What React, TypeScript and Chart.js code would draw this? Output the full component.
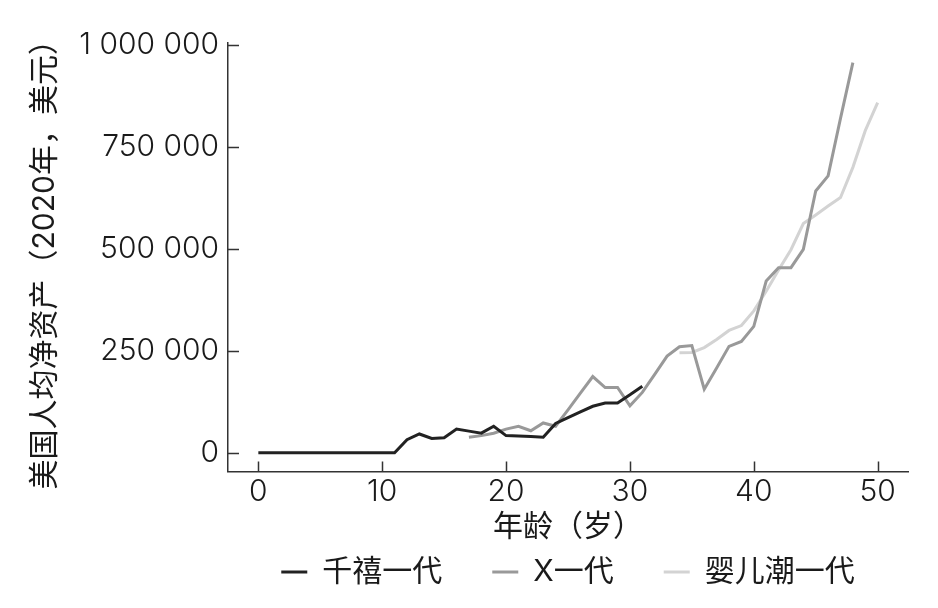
import React, { useEffect, useRef } from "react";
import { Chart, registerables } from "chart.js";

Chart.register(...registerables);

// ---- data ----
const seriesNames = ["千禧一代", "X一代", "婴儿潮一代"];

const millennialAges = [0, 1, 2, 3, 4, 5, 6, 7, 8, 9, 10, 11, 12, 13, 14, 15, 16, 17, 18, 19, 20, 21, 22, 23, 24, 25, 26, 27, 28, 29, 30, 31];
const millennialWorth = [0, 0, 0, 0, 0, 0, 0, 0, 0, 0, 0, 0, 32000, 46000, 35000, 37000, 58000, 53000, 48000, 65000, 42000, 41000, 40000, 38000, 72000, 86000, 100000, 114000, 122000, 122000, 142000, 163000];

const genXAges = [17, 18, 19, 20, 21, 22, 23, 24, 25, 26, 27, 28, 29, 30, 31, 32, 33, 34, 35, 36, 37, 38, 39, 40, 41, 42, 43, 44, 45, 46, 47, 48];
const genXWorth = [38000, 42000, 48000, 58000, 65000, 54000, 73000, 65000, 105000, 146000, 187000, 160000, 160000, 115000, 148000, 192000, 237000, 260000, 263000, 156000, 208000, 261000, 273000, 310000, 421000, 454000, 454000, 499000, 642000, 679000, 820000, 957000];

const boomerAges = [34, 35, 36, 37, 38, 39, 40, 41, 42, 43, 44, 45, 46, 47, 48, 49, 50];
const boomerWorth = [245000, 246000, 258000, 278000, 300000, 312000, 348000, 396000, 448000, 498000, 562000, 583000, 605000, 626000, 700000, 790000, 859000];

const xTickValues = [0, 10, 20, 30, 40, 50];
const yTickValues = [0, 250000, 500000, 750000, 1000000];

const xTitle = "年龄（岁）";
const yTitle = "美国人均净资产（2020年，美元）";

// ---- styles ----
const FONT = 'Inter, "Noto Sans CJK SC", sans-serif';
const TEXT = "#1a1a1a";
const AXIS = "#333333";
const colors = ["#222222", "#999999", "#d3d3d3"];

const toPoints = (xs: number[], ys: number[]) => xs.map((x, i) => ({ x, y: ys[i] }));
const fmt = (v: number) => String(v).replace(/\B(?=(\d{3})+(?!\d))/g, " ");

const inwardTicks = {
  id: "inwardTicks",
  afterDatasetsDraw(chart: any) {
    const { ctx, chartArea, scales } = chart;
    const xs = scales.x;
    const ys = scales.y;
    ctx.save();
    ctx.strokeStyle = AXIS;
    ctx.lineWidth = 1.5;
    ctx.beginPath();
    xs.ticks.forEach((t: any) => {
      const px = Math.round(xs.getPixelForValue(t.value)) + 0.5;
      ctx.moveTo(px, chartArea.bottom);
      ctx.lineTo(px, chartArea.bottom - 10);
    });
    ys.ticks.forEach((t: any) => {
      const py = Math.round(ys.getPixelForValue(t.value)) + 0.5;
      ctx.moveTo(chartArea.left, py);
      ctx.lineTo(chartArea.left + 11, py);
    });
    ctx.stroke();
    ctx.restore();
  },
};

export default function App() {
  const ref = useRef<HTMLCanvasElement | null>(null);

  useEffect(() => {
    if (!ref.current) return;
    const seriesData = [
      toPoints(millennialAges, millennialWorth),
      toPoints(genXAges, genXWorth),
      toPoints(boomerAges, boomerWorth),
    ];
    const tickFont = { family: FONT, size: 30, weight: "300", lineHeight: 1.2 };
    const textFont = { family: FONT, size: 30, weight: "400", lineHeight: 1.2 };
    const chart = new Chart(ref.current, {
      type: "line",
      data: {
        datasets: seriesNames.map((name, i) => ({
          label: name,
          data: seriesData[i],
          borderColor: colors[i],
          backgroundColor: colors[i],
          borderWidth: 3,
          pointRadius: 0,
          pointHoverRadius: 0,
          tension: 0,
          fill: false,
        })),
      },
      options: {
        animation: false,
        responsive: false,
        maintainAspectRatio: false,
        layout: { padding: { top: 43, right: 30, bottom: 11, left: 0 } },
        plugins: {
          tooltip: { enabled: false },
          legend: {
            position: "bottom",
            fullSize: false,
            labels: {
              usePointStyle: true,
              pointStyle: "line",
              pointStyleWidth: 26,
              padding: 50,
              color: TEXT,
              font: textFont,
            },
          },
        },
        scales: {
          x: {
            type: "linear",
            min: -2.45,
            max: 52.45,
            grid: { display: false, drawTicks: false },
            border: { display: true, color: AXIS, width: 1.5 },
            afterBuildTicks: (s: any) => {
              s.ticks = xTickValues.map((v) => ({ value: v }));
            },
            afterFit: (s: any) => {
              s.height = 35.5;
            },
            ticks: {
              padding: 2,
              color: TEXT,
              font: tickFont,
              maxRotation: 0,
              callback: (v: any) => String(v),
            },
            title: {
              display: true,
              text: xTitle,
              color: TEXT,
              font: textFont,
              padding: { top: 0, bottom: -38 },
            },
          },
          y: {
            type: "linear",
            min: -46000,
            max: 1005000,
            grid: { display: false, drawTicks: false },
            border: { display: true, color: AXIS, width: 1.5 },
            afterBuildTicks: (s: any) => {
              s.ticks = yTickValues.map((v) => ({ value: v }));
            },
            afterFit: (s: any) => {
              s.width = 228;
            },
            ticks: {
              padding: 9,
              color: TEXT,
              font: tickFont,
              callback: (v: any) => fmt(Number(v)),
            },
            title: {
              display: true,
              text: yTitle,
              color: TEXT,
              font: textFont,
              padding: { top: 27, bottom: 0 },
            },
          },
        },
      },
      plugins: [inwardTicks],
    } as any);
    return () => chart.destroy();
  }, []);

  return (
    <div style={{ position: "fixed", left: 0, top: 0, width: 938, height: 608, background: "#fff" }}>
      <canvas ref={ref} width={938} height={608} style={{ width: 938, height: 608, display: "block" }} />
    </div>
  );
}
